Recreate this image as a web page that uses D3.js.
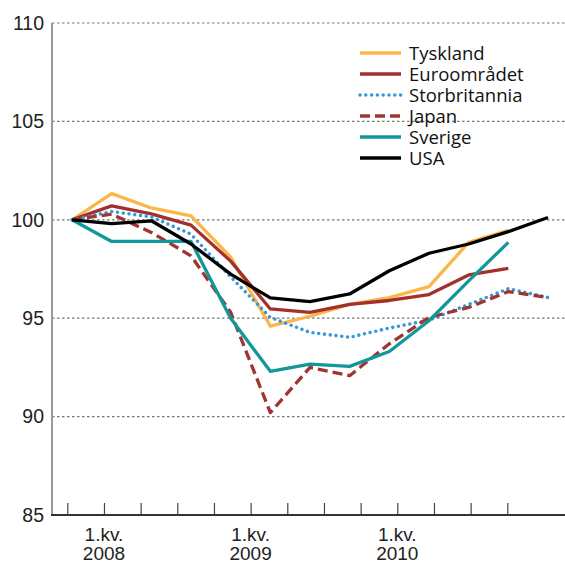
<!DOCTYPE html>
<html><head><meta charset="utf-8">
<script src="https://cdn.jsdelivr.net/npm/d3@7"></script>
<style>body{margin:0;background:#fff}svg{display:block}</style>
</head><body>
<svg id="c" width="565" height="562"></svg>
<script>
const quarters = ["2007K4","2008K1","2008K2","2008K3","2008K4","2009K1","2009K2","2009K3","2009K4","2010K1","2010K2","2010K3","2010K4"];
const tyskland      = [100,101.33,100.6,100.2,98.1,94.6,95.1,95.7,96.05,96.6,98.85,99.47];
const euroomradet   = [100,100.71,100.3,99.73,97.9,95.47,95.3,95.7,95.9,96.2,97.2,97.53];
const storbritannia = [100,100.42,100.15,99.27,97.1,95.04,94.28,94.03,94.5,94.9,95.7,96.5,96.05];
const japan         = [100,100.29,99.36,98.17,95.3,90.2,92.5,92.08,93.7,95.04,95.55,96.35,96.05];
const sverige       = [100,98.9,98.9,98.9,95.0,92.3,92.67,92.55,93.31,94.87,96.9,98.85];
const usa           = [100,99.81,99.95,98.77,97.24,96.03,95.84,96.23,97.41,98.3,98.77,99.4,100.12];
const seriesNames = ["Tyskland","Euroområdet","Storbritannia","Japan","Sverige","USA"];
const yTicks = [85,90,95,100,105,110];
const xTickCount = 13;
const xLabels = [{i:1,a:"1.kv.",b:"2008"},{i:5,a:"1.kv.",b:"2009"},{i:9,a:"1.kv.",b:"2010"}];

const series = [
  {name:seriesNames[0], values:tyskland, color:"#FBB648", dash:null, w:3.3},
  {name:seriesNames[1], values:euroomradet, color:"#A3302C", dash:null, w:3.3},
  {name:seriesNames[2], values:storbritannia, color:"#3898D6", dash:"0 5.8", w:3.6, cap:"round"},
  {name:seriesNames[3], values:japan, color:"#9E3530", dash:"10 5", w:3.3},
  {name:seriesNames[4], values:sverige, color:"#12979B", dash:null, w:3.3},
  {name:seriesNames[5], values:usa, color:"#000000", dash:null, w:3.3}
];

const svg = d3.select("#c");
const mLeft = 52, mRight = 565, mTop = 23, mBottom = 515;
const y = d3.scaleLinear().domain([85,110]).range([mBottom, mTop]);
const x = d3.scaleLinear().domain([0, quarters.length-1]).range([72, 548]);
const xt = d3.scaleLinear().domain([0, xTickCount-1]).range([67.3, 507.3]);
const font = "'Liberation Sans', Arial, sans-serif";

// gridlines
svg.append("g").selectAll("line").data(yTicks.filter(v=>v>85)).join("line")
  .attr("x1", mLeft).attr("x2", mRight).attr("y1", d=>y(d)).attr("y2", d=>y(d))
  .attr("stroke", "#777").attr("stroke-width", 1.2).attr("stroke-dasharray", "2.5 2.5");

// y axis
const yAxis = svg.append("g").attr("transform", `translate(${mLeft},0)`)
  .call(d3.axisLeft(y).tickValues(yTicks).tickSize(0).tickPadding(8).tickFormat(d3.format("d")));
yAxis.select(".domain").remove();
yAxis.selectAll("text").attr("font-family", font).attr("font-size", 19.5).attr("fill", "#222");
svg.append("line").attr("x1", mLeft).attr("x2", mLeft).attr("y1", mTop).attr("y2", mBottom)
  .attr("stroke", "#999").attr("stroke-width", 2);

// x axis
const xAxis = svg.append("g").attr("transform", `translate(0,${mBottom})`)
  .call(d3.axisTop(xt).tickValues(d3.range(xTickCount)).tickSize(12).tickFormat(""));
xAxis.select(".domain").remove();
xAxis.selectAll("line").attr("stroke", "#444").attr("stroke-width", 1.2);
svg.append("line").attr("x1", mLeft-1).attr("x2", mRight).attr("y1", mBottom).attr("y2", mBottom)
  .attr("stroke", "#333").attr("stroke-width", 1.8);

const xl = svg.append("g").selectAll("text").data(xLabels).join("text")
  .attr("x", d=>xt(d.i)).attr("y", 540.5).attr("text-anchor","middle")
  .attr("font-family", font).attr("font-size", 19).attr("fill","#222");
xl.append("tspan").attr("x", d=>xt(d.i)).text(d=>d.a);
xl.append("tspan").attr("x", d=>xt(d.i)).attr("dy", 19).text(d=>d.b);

// lines
const line = d3.line().x((d,i)=>x(i)).y(d=>y(d));
svg.append("g").selectAll("path").data(series).join("path")
  .attr("d", d=>line(d.values)).attr("fill","none")
  .attr("stroke", d=>d.color).attr("stroke-width", d=>d.w)
  .attr("stroke-dasharray", d=>d.dash)
  .attr("stroke-linecap", d=>d.cap||"butt").attr("stroke-linejoin","round");

// legend
const lg = svg.append("g").attr("transform","translate(360,53)");
const items = lg.selectAll("g").data(series).join("g").attr("transform",(d,i)=>`translate(0,${i*21})`);
items.append("line").attr("x1",0).attr("x2",41).attr("y1",0).attr("y2",0)
  .attr("stroke", d=>d.color).attr("stroke-width", d=>d.w)
  .attr("stroke-dasharray", d=>d.dash).attr("stroke-linecap", d=>d.cap||"butt");
items.append("text").attr("x",49).attr("y",6.5).text(d=>d.name)
  .attr("font-family","'Open Sans', 'Noto Sans', sans-serif").attr("font-size",18.5).attr("fill","#111");
</script>
</body></html>
